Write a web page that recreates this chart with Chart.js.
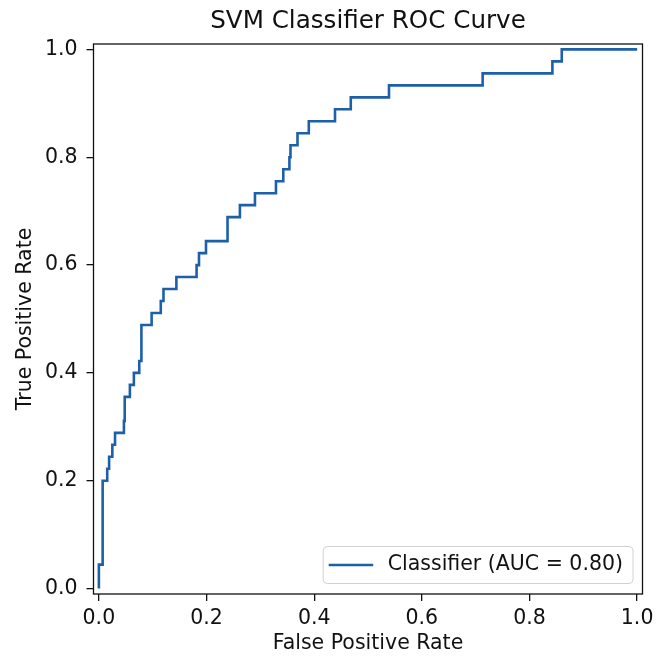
<!DOCTYPE html>
<html>
<head>
<meta charset="utf-8">
<script src="https://cdn.jsdelivr.net/npm/chart.js@4"></script>
<style>
  body { margin:0; background:#fff; }
  #wrap { width:663px; height:656px; position:relative; }
</style>
</head>
<body>
<div id="wrap"><canvas id="roc"></canvas></div>
<script>
// ── Data ─────────────────────────────────────────────────
const chartTitle = 'SVM Classifier ROC Curve';
const legendLabel = 'Classifier (AUC = 0.80)';
const tickVals = [0, 0.2, 0.4, 0.6, 0.8, 1.0];

// ROC corner points (false positive rate / true positive rate)
const fpr = [0, 0, 0.007, 0.007, 0.0155, 0.0155, 0.019, 0.019, 0.025, 0.025,
  0.03, 0.03, 0.0465, 0.0465, 0.048, 0.048, 0.0576, 0.0576, 0.065, 0.065,
  0.075, 0.075, 0.079, 0.079, 0.098, 0.098, 0.115, 0.115, 0.12, 0.12,
  0.144, 0.144, 0.1815, 0.1815, 0.186, 0.186, 0.199, 0.199, 0.239, 0.239,
  0.262, 0.262, 0.29, 0.29, 0.329, 0.329, 0.3426, 0.3426, 0.354, 0.354,
  0.356, 0.356, 0.369, 0.369, 0.39, 0.39, 0.4387, 0.4387, 0.468, 0.468,
  0.539, 0.539, 0.713, 0.713, 0.8426, 0.8426, 0.86, 0.86, 1];
const tpr = [0, 0.0444, 0.0444, 0.2, 0.2, 0.2222, 0.2222, 0.2444, 0.2444, 0.2667,
  0.2667, 0.2889, 0.2889, 0.3111, 0.3111, 0.3556, 0.3556, 0.3778, 0.3778, 0.4,
  0.4, 0.4222, 0.4222, 0.4889, 0.4889, 0.5111, 0.5111, 0.5333, 0.5333, 0.5556,
  0.5556, 0.5778, 0.5778, 0.6, 0.6, 0.6222, 0.6222, 0.6444, 0.6444, 0.6889,
  0.6889, 0.7111, 0.7111, 0.7333, 0.7333, 0.7556, 0.7556, 0.7778, 0.7778, 0.8,
  0.8, 0.8222, 0.8222, 0.8444, 0.8444, 0.8667, 0.8667, 0.8889, 0.8889, 0.9111,
  0.9111, 0.9333, 0.9333, 0.9556, 0.9556, 0.9778, 0.9778, 1, 1];

// ── Style ────────────────────────────────────────────────
const FONT = 'DejaVu Sans';
const FS = 20.5;
const lineC = '#1d5fa9';
const textC = '#111';

// title, spines and in-axes legend (matplotlib style)
const framePlugin = {
  id: 'frame',
  afterDatasetsDraw(chart) {
    const {ctx, chartArea: a} = chart;
    ctx.save();
    ctx.strokeStyle = '#111';
    ctx.lineWidth = 1.3;
    ctx.strokeRect(a.left, a.top, a.right - a.left, a.bottom - a.top);

    // legend
    ctx.font = `${FS}px "${FONT}"`;
    const tw = ctx.measureText(legendLabel).width;
    const bx2 = a.right - 9.5, by2 = a.bottom - 10.5, bh = 37;
    const tx = bx2 - 10 - tw;
    const lx2 = tx - 14.5, lx1 = lx2 - 44.5;
    const bx1 = lx1 - 5.5, by1 = by2 - bh, cy = by1 + bh / 2;
    ctx.beginPath();
    ctx.roundRect(bx1, by1, bx2 - bx1, bh, 4);
    ctx.fillStyle = 'rgba(255,255,255,0.8)';
    ctx.fill();
    ctx.strokeStyle = '#d0d0d0';
    ctx.lineWidth = 1;
    ctx.stroke();
    ctx.beginPath();
    ctx.moveTo(lx1, cy); ctx.lineTo(lx2, cy);
    ctx.strokeStyle = lineC;
    ctx.lineWidth = 2.6;
    ctx.stroke();
    ctx.fillStyle = textC;
    ctx.textBaseline = 'middle';
    ctx.textAlign = 'left';
    ctx.fillText(legendLabel, tx, cy);

    // title centred over the axes
    ctx.font = `24.6px "${FONT}"`;
    ctx.textAlign = 'center';
    ctx.textBaseline = 'middle';
    ctx.fillText(chartTitle, (a.left + a.right) / 2, 21.5);
    ctx.restore();
  }
};

const axisCommon = {
  type: 'linear', min: -0.01, max: 1.01,
  afterBuildTicks: s => { s.ticks = tickVals.map(v => ({value: v})); },
  grid: { drawOnChartArea: false, drawTicks: true, tickLength: 7, color: '#111', lineWidth: 1.3 },
  border: { display: false },
};

new Chart(document.getElementById('roc'), {
  type: 'scatter',
  data: {
    datasets: [{
      label: legendLabel,
      data: fpr.map((x, i) => ({x, y: tpr[i]})),
      showLine: true, borderColor: lineC, borderWidth: 2.6,
      pointRadius: 0, tension: 0, fill: false
    }]
  },
  options: {
    responsive: true, maintainAspectRatio: false, animation: false,
    layout: { padding: { top: 44, right: 20.5, left: 0, bottom: 0 } },
    plugins: { legend: { display: false }, tooltip: { enabled: false }, title: { display: false } },
    scales: {
      x: {
        ...axisCommon,
        afterFit: s => { s.height = 62; },
        ticks: { font: {family: FONT, size: FS}, color: textC, padding: 5, maxRotation: 0, autoSkip: false,
                 callback: v => v.toFixed(1) },
        title: { display: true, text: 'False Positive Rate', font: {family: FONT, size: FS}, color: textC,
                 padding: {top: 0, bottom: 0} }
      },
      y: {
        ...axisCommon,
        afterFit: s => { s.width = 93.5; },
        ticks: { font: {family: FONT, size: FS}, color: textC, padding: 9, autoSkip: false,
                 callback: v => v.toFixed(1) },
        title: { display: true, text: 'True Positive Rate', font: {family: FONT, size: FS}, color: textC,
                 padding: {top: 13, bottom: 0} }
      }
    }
  },
  plugins: [framePlugin]
});
</script>
</body>
</html>
